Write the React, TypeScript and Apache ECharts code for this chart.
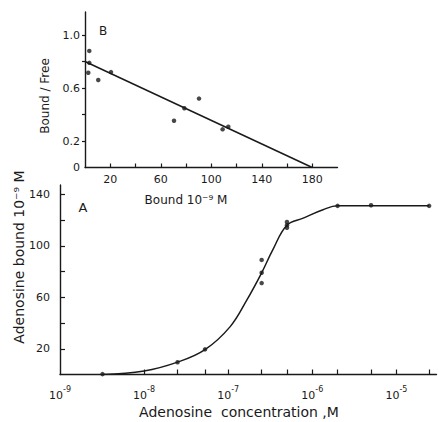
import React, { useEffect, useRef } from "react";
import * as echarts from "echarts";

// Inset B: Scatchard plot
const bfBound = [3.4, 3.4, 2.6, 10.5, 20.6, 70.5, 78.7, 90.3, 109, 113.5];
const bfRatio = [0.88, 0.79, 0.715, 0.66, 0.72, 0.353, 0.447, 0.52, 0.288, 0.308];
const fitBound = [0, 180];
const fitRatio = [0.8, 0];
const insetXLabels = [20, 60, 100, 140, 180];
const insetXTicks = [20, 40, 60, 80, 100, 120, 140, 160, 180];
const insetYLabels = [0, 0.2, 0.6, 1.0];
const insetYTicks = [0.2, 0.4, 0.6, 0.8, 1.0];

// Panel A: saturation curve
const concM = [3.2e-9, 2.5e-8, 5.3e-8, 2.5e-7, 2.5e-7, 2.5e-7, 5e-7, 5e-7, 5e-7, 2e-6, 5e-6, 2.45e-5];
const boundNM = [0.3, 9.5, 19.5, 89, 79, 71, 118.5, 116, 114, 131, 131.5, 131];
const curveConc = [3.2e-9, 1e-8, 2.5e-8, 5.3e-8, 1.05e-7, 1.67e-7, 2.5e-7, 3.4e-7, 5e-7, 7.8e-7, 1.34e-6, 2e-6, 5e-6, 2.45e-5];
const curveBound = [0, 2.7, 9.6, 19.3, 37, 58, 79, 97, 116, 121.5, 128, 131, 131, 131];
const mainXLabels = [1e-9, 1e-8, 1e-7, 1e-6, 1e-5];
const mainXTicks = [1e-8, 2.5e-8, 5.3e-8, 1e-7, 2.5e-7, 5e-7, 1e-6, 2e-6, 5e-6, 1e-5, 2.45e-5];
const mainYLabels = [20, 60, 100, 140];
const mainYTicks = [20, 40, 60, 80, 100, 120, 140];

const FONT = "DejaVu Sans";
const INK = "#1a1a1a";

const pow10Label = (v: number) => "{a|10}{b|" + String(Math.round(Math.log10(v))) + "}";

export default function App() {
  const ref = useRef<HTMLDivElement>(null);
  useEffect(() => {
    if (!ref.current) return;
    const chart = echarts.init(ref.current, undefined, { renderer: "svg" });
    const axisLine = { show: true, lineStyle: { color: INK, width: 1.4 } };
    chart.setOption({
      animation: false,
      backgroundColor: "#ffffff",
      grid: [
        { left: 85, top: 12, width: 252.5, height: 155.5, containLabel: false },
        { left: 60, top: 185, width: 376.5, height: 189.5, containLabel: false },
      ],
      xAxis: [
        {
          type: "value", gridIndex: 0, min: 0, max: 200,
          axisLine, splitLine: { show: false },
          axisTick: { show: true, inside: true, length: 4, lineStyle: { color: INK, width: 1.2 }, customValues: insetXTicks },
          axisLabel: { customValues: insetXLabels, margin: 6, fontFamily: FONT, fontSize: 11, color: INK },
        },
        {
          type: "log", gridIndex: 1, min: 1e-9, max: 3e-5, logBase: 10,
          axisLine, splitLine: { show: false }, minorTick: { show: false },
          axisTick: { show: true, inside: true, length: 5, lineStyle: { color: INK, width: 1.2 }, customValues: mainXTicks },
          axisLabel: {
            customValues: mainXLabels, margin: 11, color: INK,
            formatter: (v: number) => pow10Label(v),
            rich: {
              a: { fontFamily: FONT, fontSize: 11, color: INK, lineHeight: 15, verticalAlign: "bottom" },
              b: { fontFamily: FONT, fontSize: 8, color: INK, lineHeight: 15, verticalAlign: "top", padding: [0, 0, 6, 0] },
            },
          },
        },
      ],
      yAxis: [
        {
          type: "value", gridIndex: 0, min: 0, max: 1.1736,
          axisLine, splitLine: { show: false },
          axisTick: { show: true, inside: false, length: 3, lineStyle: { color: INK, width: 1.2 }, customValues: insetYTicks },
          axisLabel: { customValues: insetYLabels, margin: 5, fontFamily: FONT, fontSize: 11, color: INK, formatter: (v: number) => (v === 0 ? "0" : v.toFixed(1)) },
        },
        {
          type: "value", gridIndex: 1, min: 0, max: 147.2,
          axisLine, splitLine: { show: false },
          axisTick: { show: true, inside: true, length: 5, lineStyle: { color: INK, width: 1.2 }, customValues: mainYTicks },
          axisLabel: { customValues: mainYLabels, margin: 10, fontFamily: FONT, fontSize: 11, color: INK },
        },
      ],
      series: [
        {
          type: "line", xAxisIndex: 0, yAxisIndex: 0,
          data: fitBound.map((b, i) => [b, fitRatio[i]]),
          showSymbol: false, lineStyle: { color: INK, width: 1.5 },
        },
        {
          type: "scatter", xAxisIndex: 0, yAxisIndex: 0,
          data: bfBound.map((b, i) => [b, bfRatio[i]]),
          symbol: "circle", symbolSize: 4.5, itemStyle: { color: INK },
        },
        {
          type: "line", xAxisIndex: 1, yAxisIndex: 1,
          data: curveConc.map((c, i) => [c, curveBound[i]]),
          showSymbol: false, smooth: 0.4,
          lineStyle: { color: INK, width: 1.5 },
        },
        {
          type: "scatter", xAxisIndex: 1, yAxisIndex: 1,
          data: concM.map((c, i) => [c, boundNM[i]]),
          symbol: "circle", symbolSize: 4.5, itemStyle: { color: INK },
        },
      ],
      graphic: [
        { type: "text", x: 103, y: 31, style: { text: "B", fontFamily: FONT, fontSize: 12, fill: INK, align: "center", verticalAlign: "middle" } },
        { type: "text", x: 83, y: 207, style: { text: "A", fontFamily: FONT, fontSize: 13, fill: INK, align: "center", verticalAlign: "middle" } },
        { type: "text", x: 45, y: 96, rotation: Math.PI / 2, style: { text: "Bound / Free", fontFamily: FONT, fontSize: 12, fill: INK, align: "center", verticalAlign: "middle" } },
        { type: "text", x: 186, y: 200, style: { text: "Bound 10\u207B\u2079 M", fontFamily: FONT, fontSize: 12, fill: INK, align: "center", verticalAlign: "middle" } },
        { type: "text", x: 19, y: 257, rotation: Math.PI / 2, style: { text: "Adenosine bound 10\u207B\u2079 M", fontFamily: FONT, fontSize: 14, fill: INK, align: "center", verticalAlign: "middle" } },
        { type: "text", x: 239, y: 412, style: { text: "Adenosine  concentration ,M", fontFamily: FONT, fontSize: 14, fill: INK, align: "center", verticalAlign: "middle" } },
      ],
    });
    return () => chart.dispose();
  }, []);
  return <div ref={ref} style={{ width: 439, height: 422, position: "absolute", left: 0, top: 0 }} />;
}
